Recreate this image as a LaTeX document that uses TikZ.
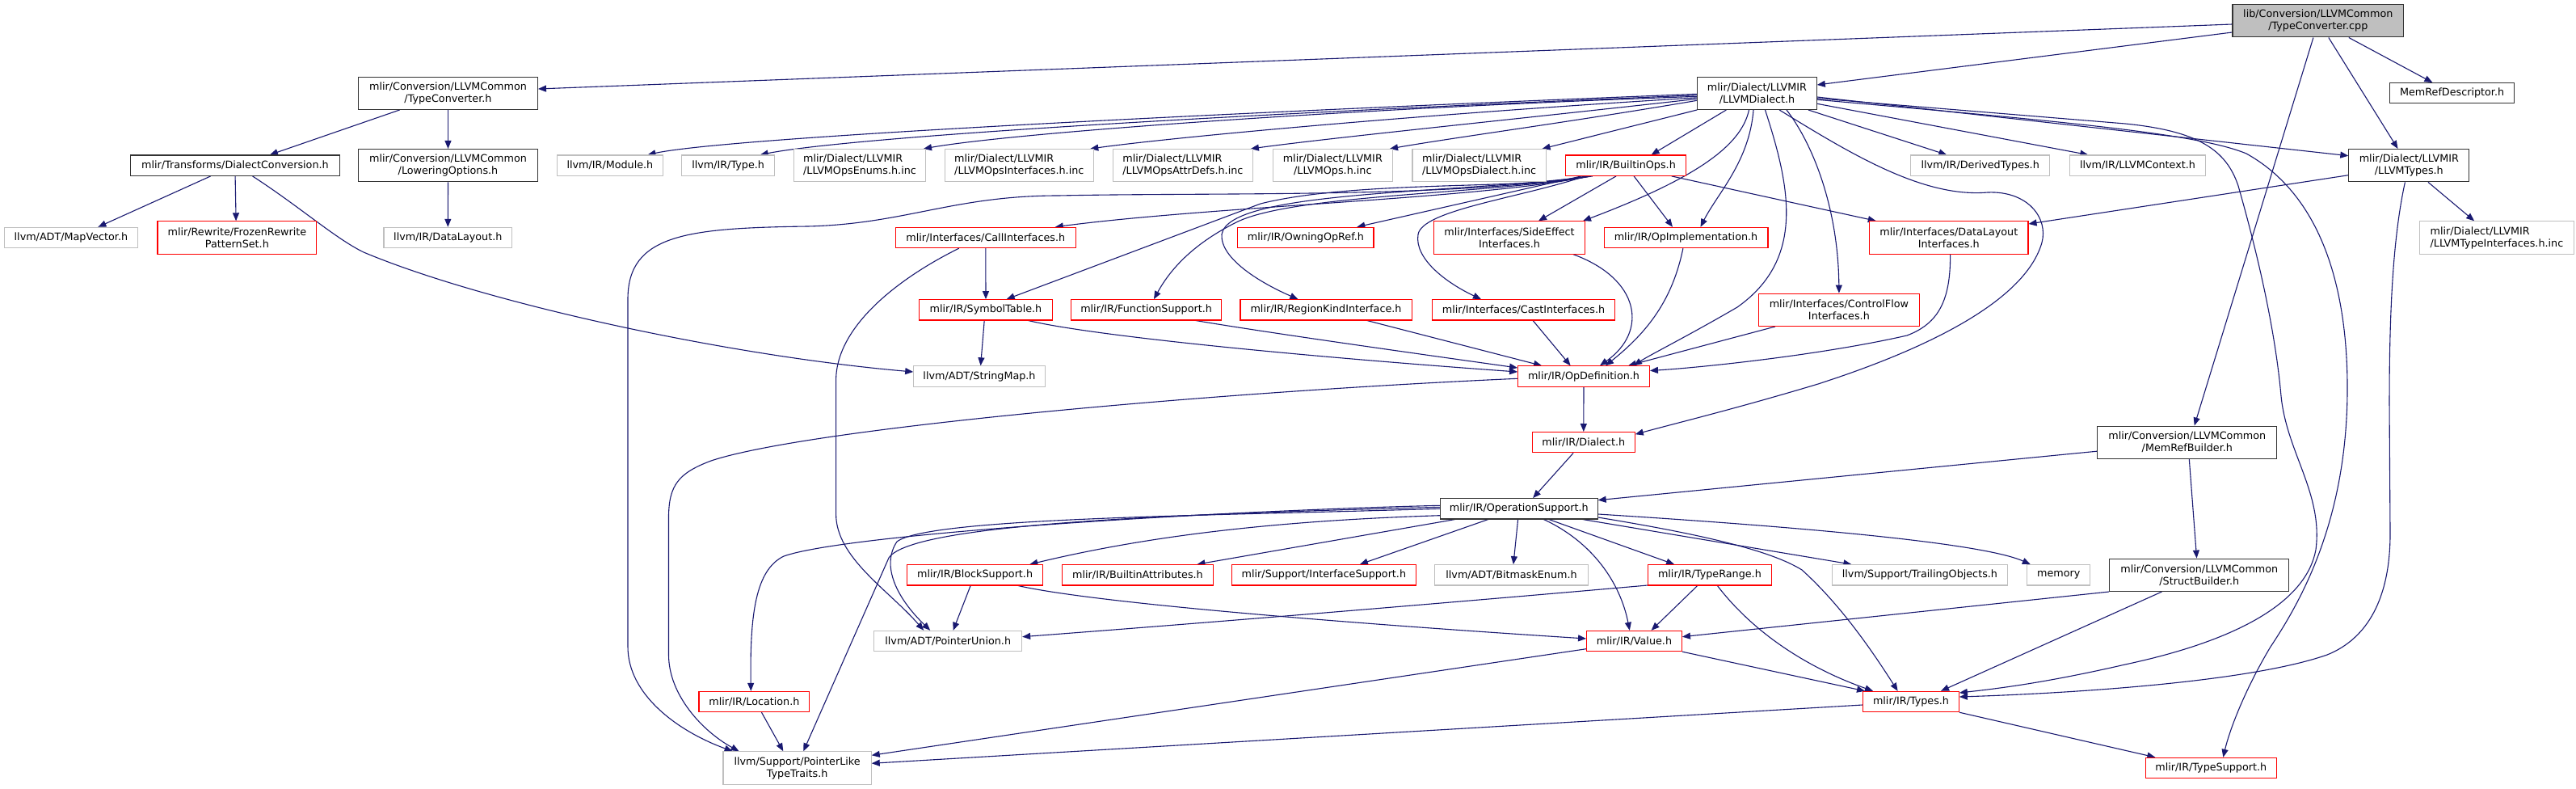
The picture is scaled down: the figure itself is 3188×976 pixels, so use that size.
\documentclass[tikz,border=0pt]{standalone}
\usepackage{fontspec}
\setmainfont{DejaVu Sans}
\usetikzlibrary{arrows.meta,calc}
\definecolor{edgec}{HTML}{191970}
\definecolor{gry}{HTML}{BFBFBF}
\newcommand{\nfont}{\fontsize{12.75}{15}\selectfont}
\pgfdeclarelayer{bgzero}
\pgfdeclarelayer{edgelayer}
\pgfsetlayers{bgzero,edgelayer,main}
\tikzset{
  nd/.style={draw, line width=1.1pt, fill=white, inner sep=0pt, align=center, font=\nfont, text=black},
  nb/.style={nd, draw=black!80},
  ng/.style={nd, draw=gry},
  nr/.style={nd, draw=red},
  nroot/.style={nd, draw=black!80, fill=gry},
  hone/.style={minimum height=25.3pt},
  htwo/.style={minimum height=40.3pt},
  edg/.style={draw=edgec, line width=1.1pt, -{Triangle[length=10pt,width=8pt]}},
}
\begin{document}
\begin{tikzpicture}[x=1pt,y=-1pt]
\begin{pgfonlayer}{bgzero}
\fill[white] (0,0) rectangle (3188,976);
\end{pgfonlayer}
\useasboundingbox (0,0) rectangle (3188,976);
% rank 0
\node[nroot,htwo,minimum width=211.7pt] (cpp) at (2868.8,25.8) {lib/Conversion/LLVMCommon\\/TypeConverter.cpp};
% rank 1
\node[nb,htwo,minimum width=221.8pt] (tch) at (554.5,115.3) {mlir/Conversion/LLVMCommon\\/TypeConverter.h};
\node[nb,htwo,minimum width=147.5pt] (lld) at (2174.5,115.3) {mlir/Dialect/LLVMIR\\/LLVMDialect.h};
\node[nb,hone,minimum width=154.3pt] (mrd) at (3034.6,115.3) {MemRefDescriptor.h};
% rank 2
\node[nb,hone,minimum width=259pt] (dc) at (290.9,204.7) {mlir/Transforms/DialectConversion.h};
\node[nb,htwo,minimum width=221.8pt] (lo) at (554.5,204.7) {mlir/Conversion/LLVMCommon\\/LoweringOptions.h};
\node[ng,hone,minimum width=131.1pt] (mod) at (754.9,204.7) {llvm/IR/Module.h};
\node[ng,hone,minimum width=115pt] (typ) at (901.1,204.7) {llvm/IR/Type.h};
\node[ng,htwo,minimum width=163pt,align=left] (enums) at (1064,204.7) {mlir/Dialect/LLVMIR\\/LLVMOpsEnums.h.inc};
\node[ng,htwo,minimum width=184pt,align=left] (ifc) at (1261.3,204.7) {mlir/Dialect/LLVMIR\\/LLVMOpsInterfaces.h.inc};
\node[ng,htwo,minimum width=173.6pt,align=left] (attr) at (1463.9,204.7) {mlir/Dialect/LLVMIR\\/LLVMOpsAttrDefs.h.inc};
\node[ng,htwo,minimum width=147.8pt] (ops) at (1649.3,204.7) {mlir/Dialect/LLVMIR\\/LLVMOps.h.inc};
\node[ng,htwo,minimum width=165.3pt,align=left] (opsd) at (1830.6,204.7) {mlir/Dialect/LLVMIR\\/LLVMOpsDialect.h.inc};
\node[nr,hone,minimum width=148.5pt] (bops) at (2012.1,204.7) {mlir/IR/BuiltinOps.h};
\node[ng,hone,minimum width=172.2pt] (dt) at (2450.7,204.7) {llvm/IR/DerivedTypes.h};
\node[ng,hone,minimum width=168.2pt] (ctx) at (2645.5,204.7) {llvm/IR/LLVMContext.h};
\node[nb,htwo,minimum width=148.9pt] (lty) at (2981.3,204.7) {mlir/Dialect/LLVMIR\\/LLVMTypes.h};
% rank 3
\node[ng,hone,minimum width=165.7pt] (mv) at (87.9,294) {llvm/ADT/MapVector.h};
\node[nr,htwo,minimum width=196.8pt] (fr) at (293.4,294) {mlir/Rewrite/FrozenRewrite\\PatternSet.h};
\node[ng,hone,minimum width=158.6pt] (dl) at (554.3,294) {llvm/IR/DataLayout.h};
\node[nr,hone,minimum width=223.2pt] (call) at (1219.8,294) {mlir/Interfaces/CallInterfaces.h};
\node[nr,hone,minimum width=168.2pt] (own) at (1615.9,294) {mlir/IR/OwningOpRef.h};
\node[nr,htwo,minimum width=186.8pt] (se) at (1868,294) {mlir/Interfaces/SideEffect\\Interfaces.h};
\node[nr,hone,minimum width=202.9pt] (oi) at (2086.5,294) {mlir/IR/OpImplementation.h};
\node[nr,htwo,minimum width=196.4pt] (dli) at (2411.8,294) {mlir/Interfaces/DataLayout\\Interfaces.h};
\node[ng,htwo,minimum width=191.1pt,align=left] (lti) at (3089.9,294) {mlir/Dialect/LLVMIR\\/LLVMTypeInterfaces.h.inc};
% rank 4
\node[nr,hone,minimum width=164.2pt] (st) at (1220,383.3) {mlir/IR/SymbolTable.h};
\node[nr,hone,minimum width=185.7pt] (fs) at (1418.6,383.3) {mlir/IR/FunctionSupport.h};
\node[nr,hone,minimum width=212.1pt] (rk) at (1641,383.3) {mlir/IR/RegionKindInterface.h};
\node[nr,hone,minimum width=226.8pt] (ci) at (1885.5,383.3) {mlir/Interfaces/CastInterfaces.h};
\node[nr,htwo,minimum width=199pt] (cf) at (2275.9,383.3) {mlir/Interfaces/ControlFlow\\Interfaces.h};
% rank 5
\node[ng,hone,minimum width=162.5pt] (sm) at (1212,465.5) {llvm/ADT/StringMap.h};
\node[nr,hone,minimum width=162.8pt] (od) at (1960,465.5) {mlir/IR/OpDefinition.h};
% rank 6
\node[nr,hone,minimum width=126.8pt] (dia) at (1959.8,547.2) {mlir/IR/Dialect.h};
\node[nb,htwo,minimum width=222.2pt] (mrb) at (2706.8,547.2) {mlir/Conversion/LLVMCommon\\/MemRefBuilder.h};
% rank 7
\node[nb,hone,minimum width=194.6pt] (os) at (1879.8,629.3) {mlir/IR/OperationSupport.h};
% rank 8
\node[nr,hone,minimum width=167.5pt] (bs) at (1206.6,711.3) {mlir/IR/BlockSupport.h};
\node[nr,hone,minimum width=187.5pt] (ba) at (1408,711.3) {mlir/IR/BuiltinAttributes.h};
\node[nr,hone,minimum width=227.5pt] (isup) at (1638.4,711.3) {mlir/Support/InterfaceSupport.h};
\node[ng,hone,minimum width=189.7pt] (be) at (1870.5,711.3) {llvm/ADT/BitmaskEnum.h};
\node[nr,hone,minimum width=152.5pt] (tr) at (2115.9,711.3) {mlir/IR/TypeRange.h};
\node[ng,hone,minimum width=217.5pt] (trl) at (2375.9,711.3) {llvm/Support/TrailingObjects.h};
\node[ng,hone,minimum width=77.9pt] (mem) at (2547.8,711.3) {memory};
\node[nb,htwo,minimum width=222.2pt] (sb) at (2721.8,711.3) {mlir/Conversion/LLVMCommon\\/StructBuilder.h};
% rank 9
\node[ng,hone,minimum width=182.8pt] (pu) at (1173.2,793) {llvm/ADT/PointerUnion.h};
\node[nr,hone,minimum width=117.8pt] (val) at (2022.5,793) {mlir/IR/Value.h};
% rank 10
\node[nr,hone,minimum width=136.8pt] (loc) at (933.4,868) {mlir/IR/Location.h};
\node[nr,hone,minimum width=118.6pt] (tys) at (2365,868) {mlir/IR/Types.h};
% rank 11
\node[ng,htwo,minimum width=183.2pt] (plt) at (986.6,950) {llvm/Support/PointerLike\\TypeTraits.h};
\node[nr,hone,minimum width=162.5pt] (tsup) at (2736.3,950) {mlir/IR/TypeSupport.h};

\begin{pgfonlayer}{edgelayer}
% from cpp
\draw[edg] ($(cpp.west)+(0,4.2)$) -- ($(tch.east)+(0,-5.3)$);
\draw[edg] ($(cpp.west)+(0,14.2)$) -- ($(lld.east)+(0,-10.3)$);
\draw[edg] ($(cpp.south)+(38,0)$) -- ($(mrd.north)+(-24.2,0)$);
\draw[edg] ($(cpp.south)+(13,0)$) -- ($(lty.north)+(-13.8,0)$);
\draw[edg] ($(cpp.south)+(-5.9,0)$) -- ($(mrb.north)+(8.9,0)$);
% TypeConverter.h
\draw[edg] ($(tch.south)+(-59.9,0)$) -- ($(dc.north)+(43,0)$);
\draw[edg] (tch.south) -- (lo.north);
\draw[edg] (lo.south) -- (dl.north);
% DialectConversion
\draw[edg] ($(dc.south)+(-30.2,0)$) -- ($(mv.north)+(33.5,0)$);
\draw[edg] ($(dc.south)+(0.2,0)$) -- ($(fr.north)+(-1.3,0)$);
\draw[edg] ($(dc.south)+(21.6,0)$) .. controls (370,255) and (415,295) .. (450,312) .. controls (600,375) and (900,440) .. ($(sm.west)+(0,-5.5)$);
% LLVMDialect
\draw[edg] ($(lld.west)+(0,1)$) .. controls (1500,140) and (900,170) .. ($(mod.north)+(46.5,0)$);
\draw[edg] ($(lld.west)+(0,2.5)$) .. controls (1500,142) and (1050,170) .. ($(typ.north)+(39.6,0)$);
\draw[edg] ($(lld.west)+(0,4)$) .. controls (1650,135) and (1250,165) .. ($(enums.north)+(79,0)$);
\draw[edg] ($(lld.west)+(0,5.5)$) .. controls (1750,142) and (1450,170) .. ($(ifc.north)+(88,0)$);
\draw[edg] ($(lld.west)+(0,7)$) .. controls (1900,145) and (1650,170) .. ($(attr.north)+(84,0)$);
\draw[edg] ($(lld.west)+(0,9)$) .. controls (1950,150) and (1800,170) .. ($(ops.north)+(70.7,0)$);
\draw[edg] (lld.south west) -- ($(opsd.north)+(78,0)$);
\draw[edg] ($(lld.south)+(-38.1,0)$) -- ($(bops.north)+(31.5,0)$);
\draw[edg] ($(lld.south)+(63.4,0)$) -- ($(dt.north)+(-41.4,0)$);
\draw[edg] ($(lld.east)+(0,13)$) -- ($(ctx.north)+(-61.2,0)$);
\draw[edg] ($(lld.east)+(0,4.7)$) -- ($(lty.west)+(0,-12)$);
\draw[edg] ($(lld.east)+(0,6.4)$) -- (2630,153) .. controls (2720,162) and (2755,185) .. (2770,230) .. controls (2790,300) and (2815,400) .. (2823,490) .. controls (2830,560) and (2875,610) .. (2866,680) .. controls (2855,740) and (2780,790) .. (2630,822) .. controls (2530,845) and (2470,852) .. ($(tys.east)+(0,-11)$);
\draw[edg] ($(lld.east)+(0,8)$) .. controls (2550,150) and (2720,165) .. (2780,190) .. controls (2870,240) and (2905,350) .. (2905,480) .. controls (2905,640) and (2850,740) .. (2810,800) .. controls (2780,850) and (2760,900) .. ($(tsup.north)+(15,0)$);
\draw[edg] ($(lld.south)+(-10,0)$) .. controls (2155,180) and (2100,220) .. ($(se.north)+(91,0)$);
\draw[edg] ($(lld.south)+(-4.5,0)$) .. controls (2165,200) and (2125,240) .. ($(oi.north)+(18,0)$);
\draw[edg] ($(lld.south)+(36.5,0)$) .. controls (2245,180) and (2275,260) .. (cf.north);
\draw[edg] ($(lld.south)+(10,0)$) .. controls (2215,230) and (2235,320) .. (2150,380) .. controls (2090,415) and (2040,440) .. ($(od.north)+(62,0)$);
\draw[edg] ($(lld.south)+(27.6,0)$) .. controls (2290,190) and (2380,245) .. (2460,238) .. controls (2510,236) and (2535,270) .. (2527,300) .. controls (2510,360) and (2420,420) .. (2250,475) .. controls (2150,505) and (2080,522) .. ($(dia.east)+(0,-10)$);
% BuiltinOps
\draw[edg] ($(bops.south)+(-47,0)$) .. controls (1850,245) and (1500,255) .. ($(call.north)+(86,0)$);
\draw[edg] ($(bops.south)+(-45,0)$) .. controls (1900,235) and (1680,222) .. (1560,252) -- ($(st.north)+(25.7,0)$);
\draw[edg] ($(bops.south)+(-43,0)$) .. controls (1850,240) and (1600,240) .. (1530,275) .. controls (1480,300) and (1450,330) .. ($(fs.north)+(9.4,0)$);
\draw[edg] ($(bops.south)+(-41,0)$) .. controls (1800,240) and (1520,235) .. (1512,290) .. controls (1510,320) and (1560,350) .. ($(rk.north)+(-34.6,0)$);
\draw[edg] ($(bops.south)+(-55,0)$) -- ($(own.north)+(63.4,0)$);
\draw[edg] ($(bops.south)+(-50,0)$) .. controls (1880,245) and (1760,260) .. (1755,290) .. controls (1750,320) and (1790,350) .. ($(ci.north)+(-52.5,0)$);
\draw[edg] ($(bops.south)+(-12,0)$) -- ($(se.north)+(36,0)$);
\draw[edg] ($(bops.south)+(10,0)$) -- ($(oi.north)+(-16.5,0)$);
\draw[edg] ($(bops.south)+(56.5,0)$) -- ($(dli.north)+(-90,0)$);
\draw[edg] ($(bops.south)+(-48,0)$) .. controls (1800,245) and (1500,238) .. (1310,242) .. controls (1180,242) and (1120,277) .. (1000,280) .. controls (850,282) and (777,290) .. (777,370) -- (777,800) .. controls (777,860) and (840,905) .. ($(plt.north)+(-80,0)$);
% rank 3/4 interfaces
\draw[edg] (call.south) -- (st.north);
\draw[edg] ($(call.south)+(-33,0)$) .. controls (1120,340) and (1035,400) .. (1034.6,470) -- (1034.6,636) .. controls (1034.6,690) and (1100,730) .. ($(pu.north)+(-30,0)$);
\draw[edg] ($(st.south)+(-1.8,0)$) -- ($(sm.north)+(1.6,0)$);
\draw[edg] ($(st.south)+(52.5,0)$) .. controls (1350,415) and (1600,440) .. ($(od.west)+(0,-5.5)$);
\draw[edg] ($(fs.south)+(61,0)$) .. controls (1560,410) and (1700,430) .. ($(od.west)+(0,-10.5)$);
\draw[edg] ($(rk.south)+(50.8,0)$) -- ($(od.north)+(-52,0)$);
\draw[edg] ($(ci.south)+(11.6,0)$) -- ($(od.north)+(-16.4,0)$);
\draw[edg] ($(se.south)+(79,0)$) .. controls (2030,345) and (2040,410) .. ($(od.north)+(20,0)$);
\draw[edg] ($(oi.south)+(-3.6,0)$) .. controls (2070,370) and (2040,410) .. ($(od.north)+(27,0)$);
\draw[edg] ($(cf.south)+(-79,0)$) -- ($(od.north)+(55,0)$);
\draw[edg] ($(dli.south)+(1.8,0)$) .. controls (2414,370) and (2400,400) .. (2360,415) .. controls (2250,440) and (2100,455) .. ($(od.east)+(0,-7)$);
% OpDefinition
\draw[edg] (od.south) -- (dia.north);
\draw[edg] ($(od.west)+(0,2.8)$) .. controls (1500,485) and (1000,530) .. (880,570) .. controls (840,585) and (827.5,600) .. (827.5,640) -- (827.5,810) .. controls (827.5,860) and (870,905) .. ($(plt.north)+(-72,0)$);
% Dialect / MemRefBuilder
\draw[edg] ($(dia.south)+(-12.7,0)$) -- ($(os.north)+(17.3,0)$);
\draw[edg] ($(mrb.west)+(0,11)$) -- ($(os.east)+(0,-10.6)$);
\draw[edg] ($(mrb.south)+(2.5,0)$) -- ($(sb.north)+(-3.2,0)$);
% OperationSupport
\draw[edg] ($(os.south)+(-38,0)$) -- ($(isup.north)+(44.5,0)$);
\draw[edg] ($(os.south)+(-1.2,0)$) -- ($(be.north)+(2.4,0)$);
\draw[edg] ($(os.south)+(30.6,0)$) .. controls (1970,670) and (2005,720) .. ($(val.north)+(-5.7,0)$);
\draw[edg] ($(os.south)+(37,0)$) -- ($(tr.north)+(-43.8,0)$);
\draw[edg] ($(os.south)+(78.8,0)$) -- ($(trl.north)+(-84.5,0)$);
\draw[edg] ($(os.east)+(0,6.7)$) .. controls (2200,650) and (2450,670) .. ($(mem.north)+(-35,0)$);
\draw[edg] ($(os.east)+(0,10.7)$) .. controls (2100,660) and (2190,680) .. (2230,705) .. controls (2280,750) and (2320,810) .. ($(tys.north)+(-16.4,0)$);
\draw[edg] ($(os.west)+(0,8.4)$) .. controls (1550,645) and (1400,668) .. ($(bs.north)+(67.7,0)$);
\draw[edg] ($(os.south)+(-79,0)$) -- ($(ba.north)+(73.4,0)$);
\draw[edg] (os.west) .. controls (1500,638) and (1150,640) .. (1110,670) .. controls (1090,700) and (1110,740) .. ($(pu.north)+(-22,0)$);
\draw[edg] ($(os.west)+(0,-2)$) .. controls (1500,635) and (1130,645) .. (1100,690) -- ($(plt.north)+(7.7,0)$);
\draw[edg] ($(os.west)+(0,-4)$) .. controls (1500,632) and (1050,660) .. (970,688) .. controls (935,705) and (928,760) .. ($(loc.north)+(-4.1,0)$);
% TypeRange, BlockSupport, StructBuilder
\draw[edg] ($(tr.west)+(0,12.7)$) .. controls (1800,745) and (1500,770) .. ($(pu.east)+(0,-5.3)$);
\draw[edg] ($(tr.south)+(-15.2,0)$) -- ($(val.north)+(21.1,0)$);
\draw[edg] ($(tr.south)+(9.5,0)$) .. controls (2160,770) and (2220,820) .. ($(tys.north)+(-47,0)$);
\draw[edg] ($(bs.south)+(-5.5,0)$) -- ($(pu.north)+(6.4,0)$);
\draw[edg] ($(bs.south)+(53.4,0)$) .. controls (1350,745) and (1650,770) .. ($(val.west)+(0,-3)$);
\draw[edg] (sb.south west) -- ($(val.east)+(0,-5.3)$);
\draw[edg] ($(sb.south)+(-46.4,0)$) -- ($(tys.north)+(37,0)$);
% Value, Types, Location
\draw[edg] (val.south east) -- ($(tys.north)+(-57,0)$);
\draw[edg] ($(val.west)+(0,9.7)$) -- ($(plt.east)+(0,-15.7)$);
\draw[edg] ($(tys.west)+(0,4)$) -- ($(plt.east)+(0,-5.7)$);
\draw[edg] (tys.south east) -- ($(tsup.north)+(-69,0)$);
\draw[edg] ($(loc.south)+(9.1,0)$) -- ($(plt.north)+(-17.3,0)$);
% LLVMTypes
\draw[edg] ($(lty.west)+(0,12)$) -- ($(dli.east)+(0,-17)$);
\draw[edg] ($(lty.south)+(23.7,0)$) -- ($(lti.north)+(-27.8,0)$);
\draw[edg] ($(lty.south)+(-4.9,0)$) .. controls (2960,300) and (2957,400) .. (2957,500) -- (2958,660) .. controls (2958,740) and (2930,790) .. (2880,810) .. controls (2780,845) and (2550,858) .. ($(tys.east)+(0,-6)$);
\end{pgfonlayer}
\end{tikzpicture}
\end{document}
